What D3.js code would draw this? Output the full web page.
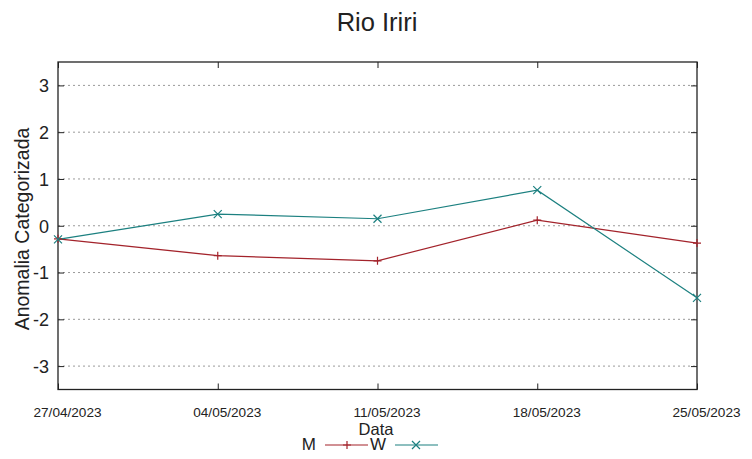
<!DOCTYPE html>
<html><head><meta charset="utf-8">
<script src="https://cdn.jsdelivr.net/npm/d3@7"></script>
<style>body{margin:0;background:#fff;} text{font-family:"Liberation Sans",Arial,sans-serif;fill:#222;}</style>
</head><body><svg id="c" width="752" height="459"></svg>
<script>
const dates = ["27/04/2023","04/05/2023","11/05/2023","18/05/2023","25/05/2023"];
const seriesM = [-0.28, -0.64, -0.75, 0.12, -0.37];
const seriesW = [-0.29, 0.25, 0.15, 0.76, -1.54];
const yTicks = [-3,-2,-1,0,1,2,3];
const title = "Rio Iriri";
const xLabel = "Data";
const yLabel = "Anomalia Categorizada";

const svg = d3.select("#c");
const L=58, R=697, T=62, B=389.5;
const x = d3.scalePoint().domain(dates).range([L,R]);
const y = d3.scaleLinear().domain([-3.5,3.5]).range([B,T]);
const FF = "Liberation Sans, Arial, sans-serif";

svg.append("rect").attr("width",752).attr("height",459).attr("fill","#fff");
// grid
svg.append("g").selectAll("line").data(yTicks).join("line")
  .attr("x1",L).attr("x2",R).attr("y1",d=>y(d)).attr("y2",d=>y(d))
  .attr("stroke","#9a9a9a").attr("stroke-width",1).attr("stroke-dasharray","2,3");

// axes
const gl = svg.append("g").attr("transform",`translate(${L},0)`)
  .call(d3.axisLeft(y).tickValues(yTicks).tickSize(-6).tickPadding(9).tickFormat(d=>String(d)));
const gr = svg.append("g").attr("transform",`translate(${R},0)`)
  .call(d3.axisRight(y).tickValues(yTicks).tickSize(-6).tickFormat(""));
const gb = svg.append("g").attr("transform",`translate(0,${B})`)
  .call(d3.axisBottom(x).tickSize(-6).tickPadding(18));
const gt = svg.append("g").attr("transform",`translate(0,${T})`)
  .call(d3.axisTop(x).tickSize(-6).tickFormat(""));
[gl,gr,gb,gt].forEach(g=>{g.select(".domain").remove(); g.selectAll("line").attr("stroke","#222");});
gl.selectAll("text").attr("font-size",18).attr("fill","#222").style("font-family",FF).attr("dy","0.35em");
gb.selectAll("text").attr("font-size",13.6).attr("fill","#222").style("font-family",FF).attr("dx",9);
svg.append("rect").attr("x",L).attr("y",T).attr("width",R-L).attr("height",B-T)
  .attr("fill","none").attr("stroke","#222").attr("stroke-width",1.3);

const colM="#a3232b", colW="#1c8080";
const line = d3.line().x((d,i)=>x(dates[i])).y(d=>y(d));
svg.append("path").datum(seriesM).attr("d",line).attr("fill","none").attr("stroke",colM).attr("stroke-width",1.2);
svg.append("path").datum(seriesW).attr("d",line).attr("fill","none").attr("stroke",colW).attr("stroke-width",1.2);
const s=4;
function plus(g,cx,cy,c){g.append("path").attr("d",`M${cx-s},${cy}H${cx+s}M${cx},${cy-s}V${cy+s}`).attr("stroke",c).attr("stroke-width",1.2);}
function cross(g,cx,cy,c){g.append("path").attr("d",`M${cx-s},${cy-s}L${cx+s},${cy+s}M${cx-s},${cy+s}L${cx+s},${cy-s}`).attr("stroke",c).attr("stroke-width",1.2);}
const pg=svg.append("g");
seriesM.forEach((v,i)=>plus(pg,x(dates[i]),y(v),colM));
seriesW.forEach((v,i)=>cross(pg,x(dates[i]),y(v),colW));

// title & labels
svg.append("text").attr("x",377).attr("y",31).attr("text-anchor","middle").attr("font-size",25.5).text(title);
svg.append("text").attr("x",376).attr("y",435).attr("text-anchor","middle").attr("font-size",16.5).text(xLabel);
svg.append("text").attr("transform",`translate(29,229) rotate(-90)`).attr("text-anchor","middle").attr("font-size",19.5).text(yLabel);

// legend
const ly=445;
svg.append("text").attr("x",316).attr("y",ly+5).attr("text-anchor","end").attr("font-size",17).text("M");
svg.append("line").attr("x1",325).attr("x2",368).attr("y1",ly).attr("y2",ly).attr("stroke",colM).attr("stroke-width",1.2);
plus(svg,347,ly,colM);
svg.append("text").attr("x",386).attr("y",ly+5).attr("text-anchor","end").attr("font-size",17).text("W");
svg.append("line").attr("x1",395).attr("x2",438).attr("y1",ly).attr("y2",ly).attr("stroke",colW).attr("stroke-width",1.2);
cross(svg,416,ly,colW);
</script></body></html>
